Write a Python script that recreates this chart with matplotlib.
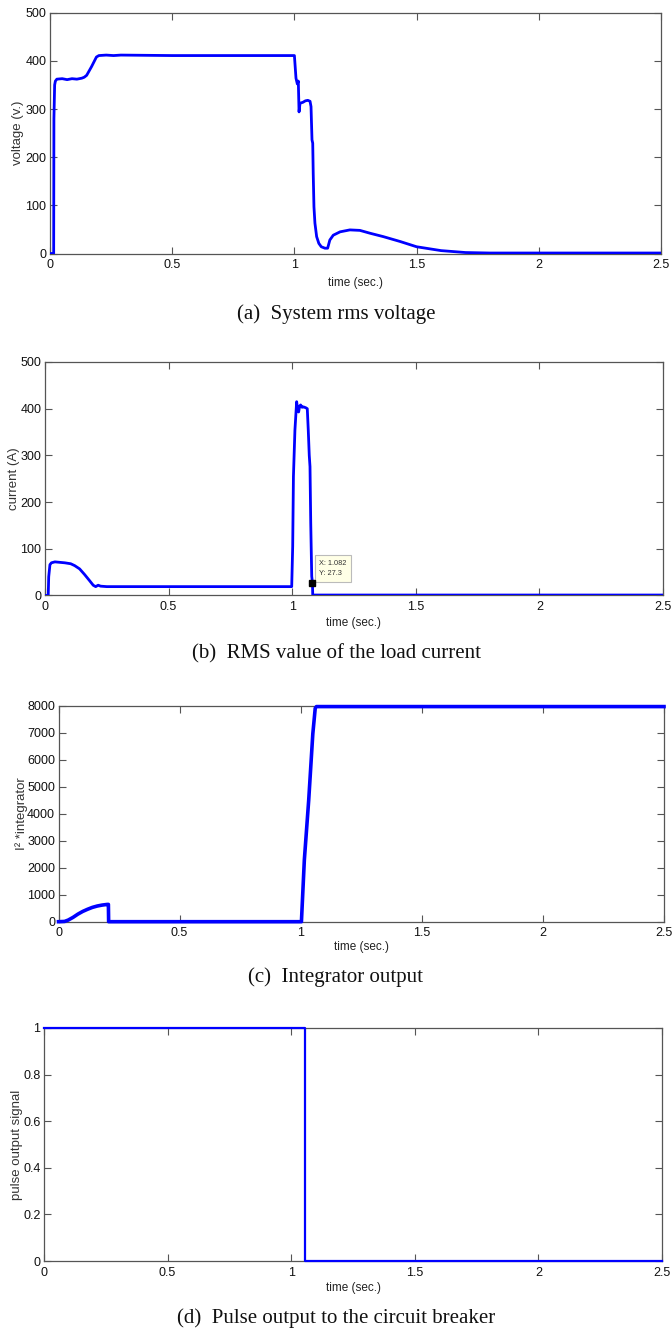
import matplotlib
matplotlib.use("Agg")
import matplotlib.pyplot as plt

plt.rcParams['font.family'] = ['Liberation Sans', 'DejaVu Sans']

# ---- data ----
t_voltage = [0, 0.015, 0.016, 0.019, 0.022, 0.028, 0.05, 0.07, 0.09, 0.11, 0.13,
             0.14, 0.15, 0.17, 0.19, 0.2, 0.23, 0.26, 0.29, 0.5, 1.0, 1.0065,
             1.012, 1.016, 1.019, 1.023, 1.035, 1.045, 1.055, 1.064, 1.068,
             1.072, 1.075, 1.077, 1.08, 1.084, 1.091, 1.1, 1.11, 1.125, 1.136,
             1.145, 1.159, 1.187, 1.227, 1.268, 1.31, 1.364, 1.432, 1.5, 1.55,
             1.6, 1.65, 1.7, 1.75, 1.8, 2.0, 2.5]
voltage = [0, 0, 280, 350, 358, 362, 363, 361, 363, 362, 364,
           366, 370, 388, 408, 411, 412, 411, 412, 411, 411, 364,
           352, 358, 294, 312, 314, 317, 318, 316, 305,
           236, 229, 166, 97, 63, 35, 21, 14, 11, 11,
           28, 38, 45, 49, 48, 42, 35, 25, 14, 10,
           6, 4, 2, 1.5, 1, 1, 1]

t_current = [0, 0.013, 0.015, 0.02, 0.026, 0.04, 0.06, 0.08, 0.104, 0.12, 0.14,
             0.16, 0.18, 0.195, 0.205, 0.215, 0.225, 0.25, 0.5, 0.998, 1.002,
             1.005, 1.011, 1.018, 1.022, 1.026, 1.03, 1.034, 1.04, 1.045, 1.055,
             1.061, 1.065, 1.069, 1.072, 1.075, 1.079, 1.082, 1.083, 1.1, 2.5]
current = [0, 0, 40, 66, 70, 72, 71, 70, 68, 64, 57,
           45, 32, 22, 19, 22, 20, 19, 19, 19, 105,
           255, 354, 415, 400, 393, 405, 408, 403, 404, 402,
           400, 354, 300, 276, 155, 41, 27.3, 1, 1, 1]
tip_t, tip_i = 1.082, 27.3

t_integ = [0, 0.025, 0.04, 0.06, 0.08, 0.1, 0.12, 0.14, 0.16, 0.18, 0.2,
           0.206, 0.207, 0.5, 1.003, 1.015, 1.033, 1.05, 1.06, 1.065, 1.5, 2.5]
integ = [0, 10, 60, 160, 280, 380, 460, 530, 580, 615, 638,
         640, 0, 0, 0, 2280, 4490, 6950, 7900, 7960, 7960, 7960]

t_pulse = [0, 1.055, 1.055, 2.5]
pulse = [1, 1, 0, 0]

x_ticks = [0, 0.5, 1, 1.5, 2, 2.5]
x_tick_labels = ['0', '0.5', '1', '1.5', '2', '2.5']
yticks_v = [0, 100, 200, 300, 400, 500]
yticks_i = [0, 100, 200, 300, 400, 500]
yticks_q = [0, 1000, 2000, 3000, 4000, 5000, 6000, 7000, 8000]
yticks_p = [0, 0.2, 0.4, 0.6, 0.8, 1]
ytick_labels_p = ['0', '0.2', '0.4', '0.6', '0.8', '1']

ylabels = ['voltage (v.)', 'current (A)', 'I² *integrator', 'pulse output signal']
xlabel = 'time (sec.)'
captions = ['(a)  System rms voltage', '(b)  RMS value of the load current',
            '(c)  Integrator output', '(d)  Pulse output to the circuit breaker']

# ---- layout (pixels, origin top-left) ----
W, H = 672, 1330
fig = plt.figure(figsize=(W / 100, H / 100), dpi=100)

boxes = [(50, 661, 12.7, 253.5),
         (45, 663, 362, 595.5),
         (58.5, 664, 705.5, 921.7),
         (44, 662, 1028, 1261)]
xlabel_y = [283, 623, 947, 1288]
caption_y = [314, 654, 977, 1318]
ylabel_x = [18, 14, 22, 17]

BLUE = '#0000FF'
AX_COLOR = '#555555'


def make_axes(box):
    l, r, t, b = box
    ax = fig.add_axes([l / W, 1 - b / H, (r - l) / W, (b - t) / H])
    for s in ax.spines.values():
        s.set_color(AX_COLOR)
        s.set_linewidth(0.9)
    ax.tick_params(direction='in', top=True, right=True, length=5, width=0.8,
                   color=AX_COLOR, labelsize=9, labelcolor='#111111')
    ax.tick_params(axis='x', pad=4)
    ax.tick_params(axis='y', pad=2.5)
    ax.set_xlim(0, 2.5)
    ax.set_xticks(x_ticks, x_tick_labels)
    return ax


axes = [make_axes(b) for b in boxes]

ax = axes[0]
ax.plot(t_voltage, voltage, color=BLUE, lw=2.0, solid_joinstyle='round', zorder=3)
ax.set_ylim(0, 500)
ax.set_yticks(yticks_v, [str(v) for v in yticks_v])

ax = axes[1]
ax.plot(t_current, current, color=BLUE, lw=2.0, solid_joinstyle='round', zorder=3)
ax.plot([tip_t], [tip_i], marker='s', color='black', ms=4, ls='none', zorder=4)
ax.annotate(f'X: {tip_t:g}\nY: {tip_i:g}', xy=(tip_t, tip_i), xytext=(5, 4),
            textcoords='offset points', ha='left', va='bottom', fontsize=5.3,
            color='#333333', linespacing=1.7,
            bbox=dict(boxstyle='square,pad=0.6', fc='#FFFFE6', ec='#BBBBBB', lw=0.8))
ax.set_ylim(0, 500)
ax.set_yticks(yticks_i, [str(v) for v in yticks_i])

ax = axes[2]
ax.plot(t_integ, integ, color=BLUE, lw=2.6, solid_joinstyle='round', clip_on=False, zorder=3)
ax.set_ylim(0, 8000)
ax.set_yticks(yticks_q, [str(v) for v in yticks_q])

ax = axes[3]
ax.plot(t_pulse, pulse, color=BLUE, lw=1.6, clip_on=False, zorder=3)
ax.set_ylim(0, 1)
ax.set_yticks(yticks_p, ytick_labels_p)

for i, (box, ax) in enumerate(zip(boxes, axes)):
    l, r, t, b = box
    fig.text((l + r) / 2 / W, 1 - xlabel_y[i] / H, xlabel, ha='center', va='center',
             fontsize=8.5, color='#222222')
    fig.text(ylabel_x[i] / W, 1 - (t + b) / 2 / H, ylabels[i], ha='center', va='center',
             rotation=90, fontsize=9.5, color='#333333')
    fig.text(0.5, 1 - caption_y[i] / H, captions[i], ha='center', va='center',
             fontsize=15, family=['Liberation Serif', 'DejaVu Serif'], color='#111111')

fig.savefig('out.png', dpi=100, facecolor='white')
